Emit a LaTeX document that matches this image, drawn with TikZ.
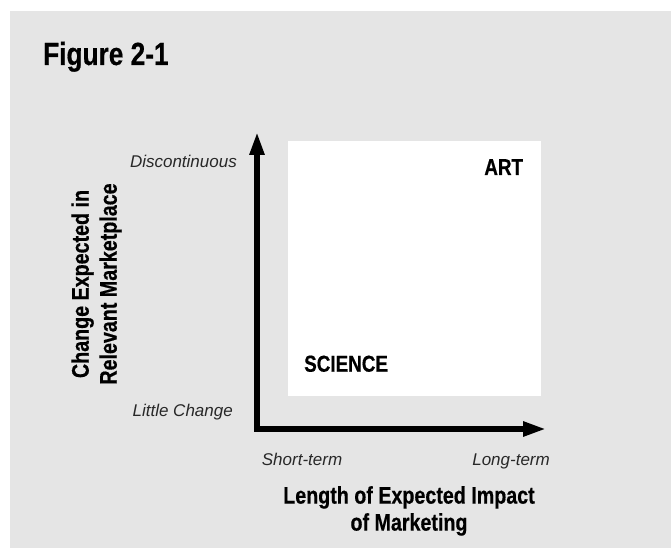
\documentclass[tikz,border=0pt]{standalone}
\usepackage{fontspec}
\setmainfont{Liberation Sans}
\newfontfamily\condb[FakeStretch=0.82, BoldFeatures={FakeBold=0.5}]{Liberation Sans}
\usetikzlibrary{arrows.meta}
\definecolor{panelgray}{RGB}{229,229,229}
\definecolor{itgray}{RGB}{40,40,40}
\tikzset{
  boldlbl/.style={inner sep=0pt, text=black},
  itlbl/.style={inner sep=0pt, text=itgray, font=\fontsize{17}{20}\selectfont\itshape},
  axis/.style={line width=5.5pt, line join=miter, -{Triangle[length=23pt,width=14pt]}},
}
\begin{document}
\begin{tikzpicture}[x=1pt,y=-1pt]
\useasboundingbox (0,0) rectangle (671,548);
\fill[panelgray] (10,11) rectangle (671,548);
\fill[white] (288,141) rectangle (541,396);
\node[boldlbl, anchor=base west, font=\condb\bfseries\fontsize{32}{36}\selectfont] (title) at (43,65) {Figure 2-1};
\coordinate (origin) at (257,429);
\coordinate (ytip) at (257,132);
\coordinate (xtip) at (546,429);
\draw[axis] (origin) -- (ytip);
\draw[axis] ([xshift=-2.75pt]origin) -- (xtip);
\node[boldlbl, anchor=base east, font=\condb\bfseries\fontsize{23}{26}\selectfont] (art) at (523.3,175) {ART};
\node[boldlbl, anchor=base west, font=\condb\bfseries\fontsize{23}{26}\selectfont] (sci) at (304,371.7) {SCIENCE};
\node[itlbl, anchor=base east] (disc) at (237,167.7) {Discontinuous};
\node[itlbl, anchor=base east] (little) at (233,416) {Little Change};
\node[itlbl, anchor=base west] (short) at (261.7,465) {Short-term};
\node[itlbl, anchor=base east] (long) at (550,465) {Long-term};
\node[boldlbl, anchor=north, align=center, font=\condb\bfseries\fontsize{24}{27}\selectfont] (xlbl) at (409,486) {Length of Expected Impact\\of Marketing};
\node[boldlbl, rotate=90, anchor=center, align=center, font=\condb\bfseries\fontsize{24}{28}\selectfont] (ylbl) at (96.5,284) {Change Expected in\\Relevant Marketplace};
\end{tikzpicture}
\end{document}
